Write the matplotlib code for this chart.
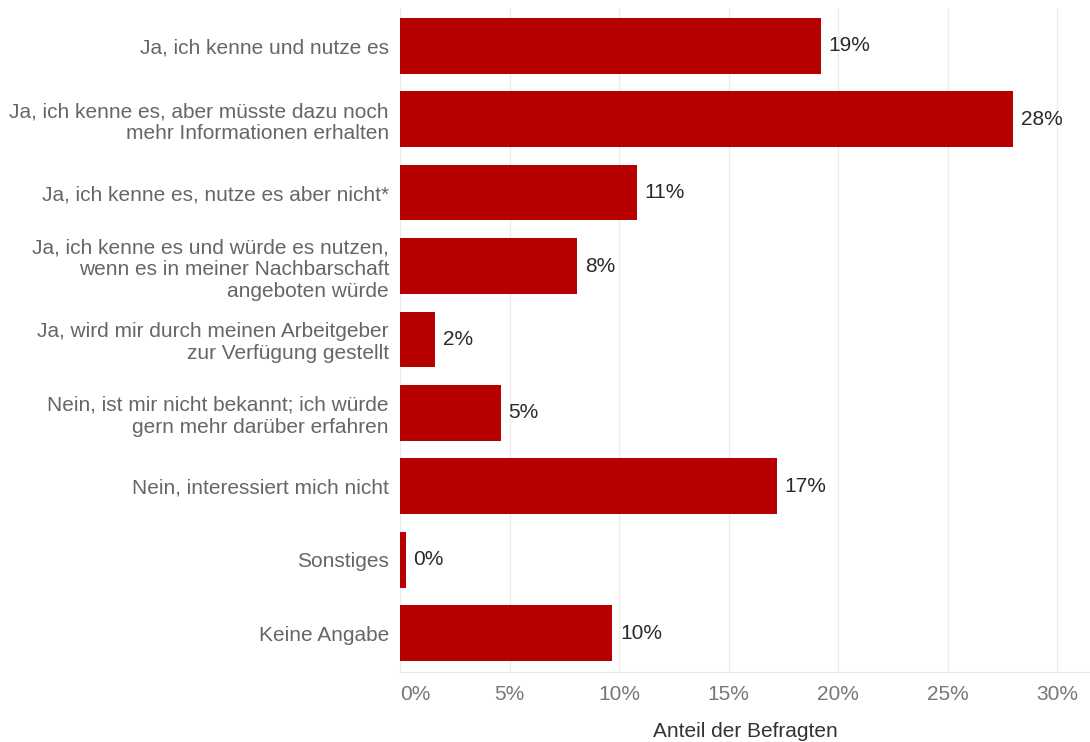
import matplotlib
matplotlib.use('Agg')
import matplotlib.pyplot as plt

categories = [
    'Ja, ich kenne und nutze es',
    'Ja, ich kenne es, aber müsste dazu noch\nmehr Informationen erhalten',
    'Ja, ich kenne es, nutze es aber nicht*',
    'Ja, ich kenne es und würde es nutzen,\nwenn es in meiner Nachbarschaft\nangeboten würde',
    'Ja, wird mir durch meinen Arbeitgeber\nzur Verfügung gestellt',
    'Nein, ist mir nicht bekannt; ich würde\ngern mehr darüber erfahren',
    'Nein, interessiert mich nicht',
    'Sonstiges',
    'Keine Angabe',
]
shares = [19.2, 28.0, 10.8, 8.1, 1.6, 4.6, 17.2, 0.25, 9.7]
xticks = [0, 5, 10, 15, 20, 25, 30]

plt.rcParams['font.family'] = ['Liberation Sans', 'DejaVu Sans']

fig = plt.figure(figsize=(10.9, 7.42), dpi=100)
ax = fig.add_axes([0.367, 0.094, 0.633, 0.895])

ypos = list(range(len(categories)))
ax.barh(ypos, shares, height=0.76, color='#b70000', zorder=2)

for y, v in zip(ypos, shares):
    ax.text(v + 0.35, y, '{:.0f}%'.format(v), va='center', ha='left',
            fontsize=15, color='#2a2a2a', zorder=3)

ax.set_yticks(ypos)
ax.set_yticklabels(categories, fontsize=15, color='#666666', linespacing=1.18)
ax.set_ylim(8.53, -0.51)

ax.set_xlim(0, 31.5)
ax.set_xticks(xticks)
ax.set_xticklabels(['{}%'.format(t) for t in xticks], fontsize=15, color='#777777')
ax.get_xticklabels()[0].set_horizontalalignment('left')
ax.tick_params(axis='both', length=0)
ax.tick_params(axis='y', pad=8)
ax.tick_params(axis='x', pad=9)

ax.grid(axis='x', color='#ebebeb', linewidth=1, zorder=0)
for side in ['top', 'right', 'left']:
    ax.spines[side].set_visible(False)
ax.spines['bottom'].set_color('#ebebeb')

ax.set_xlabel('Anteil der Befragten', fontsize=15, color='#333333', labelpad=13)

fig.savefig('out.png', dpi=100)
